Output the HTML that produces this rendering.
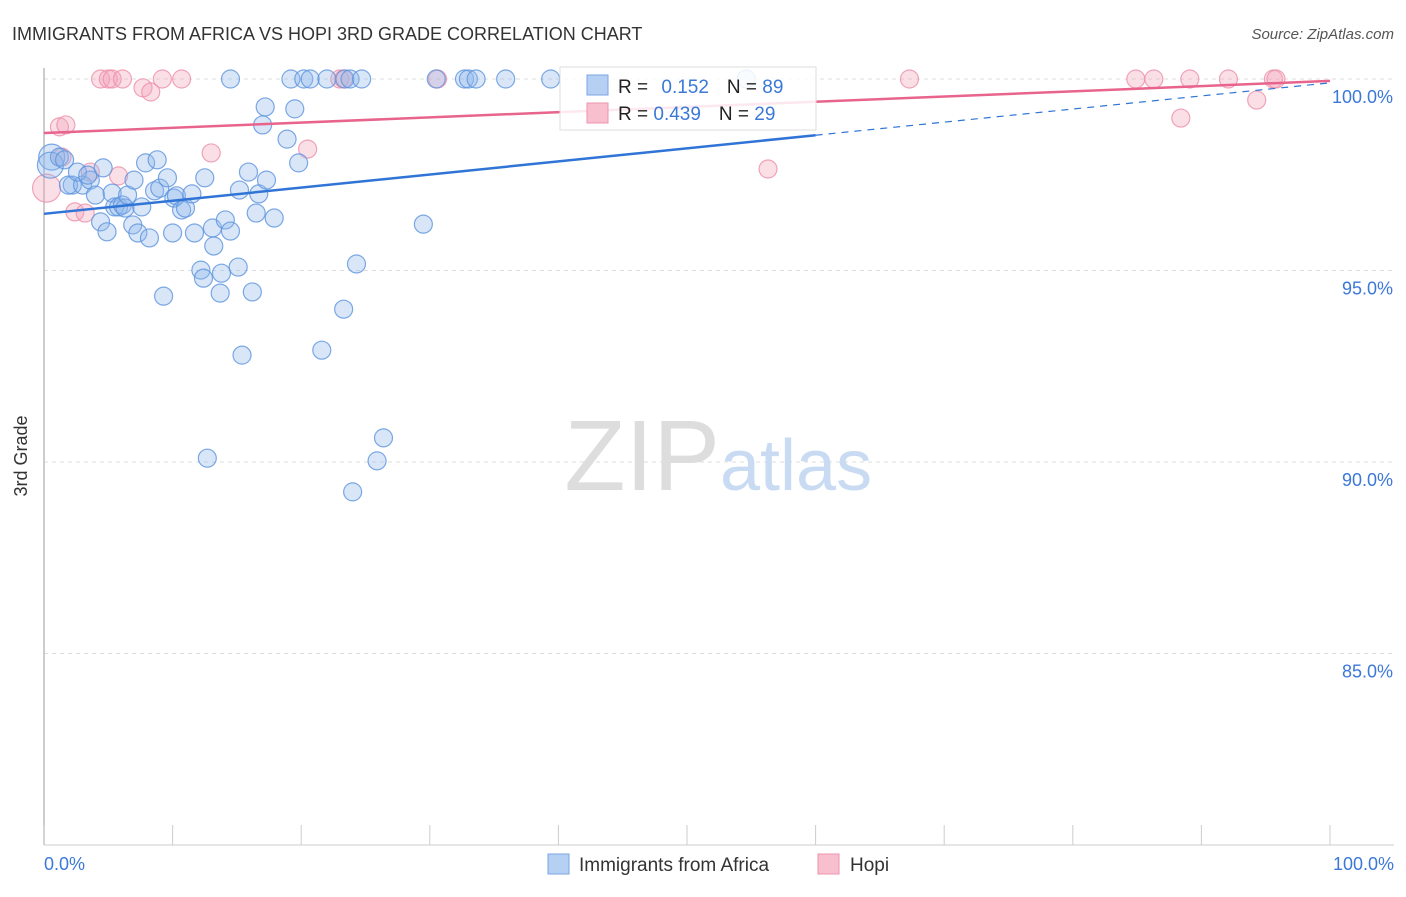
<!DOCTYPE html>
<html><head><meta charset="utf-8">
<style>
body{margin:0;background:#fff;font-family:"Liberation Sans",sans-serif;}
svg text{font-family:"Liberation Sans",sans-serif;}
</style></head>
<body>
<svg width="1406" height="892" viewBox="0 0 1406 892" xmlns="http://www.w3.org/2000/svg">
<text x="12" y="40" font-size="18" fill="#333">IMMIGRANTS FROM AFRICA VS HOPI 3RD GRADE CORRELATION CHART</text>
<text x="1394" y="39" font-size="15" fill="#555" font-style="italic" text-anchor="end">Source: ZipAtlas.com</text>
<g id="grid"></g>
<g id="ylabels"></g>
<line x1="44" y1="68" x2="44" y2="845" stroke="#bbb" stroke-width="1.5"/>
<line x1="44" y1="845" x2="1394" y2="845" stroke="#ccc"/>
<g id="xticks"></g>
<text x="27" y="456" font-size="18" fill="#333" text-anchor="middle" transform="rotate(-90 27 456)">3rd Grade</text>
<text x="44" y="870" font-size="18" fill="#3b78d8">0.0%</text>
<text x="1394" y="870" font-size="18" fill="#3b78d8" text-anchor="end">100.0%</text>
<text x="720" y="490" font-size="100" fill="#ddd" text-anchor="end" font-family="Liberation Serif">ZIP</text>
<text x="720" y="490" font-size="72" fill="#c9dbf3">atlas</text>
<g id="pts"></g>
<g id="trends"></g>
<g>
<rect x="560" y="67" width="256" height="63" fill="#fff" fill-opacity="0.85" stroke="#ddd"/>
<rect x="587" y="75" width="21" height="20" fill="#b5d0f3" stroke="#7aa6e6"/>
<text x="618" y="93" font-size="19" fill="#222">R = <tspan fill="#3b78d8" dx="8">0.152</tspan><tspan fill="#222" dx="18">N = </tspan><tspan fill="#3b78d8">89</tspan></text>
<rect x="587" y="103" width="21" height="20" fill="#f8c0cf" stroke="#ee93ad"/>
<text x="618" y="120" font-size="19" fill="#222">R = <tspan fill="#3b78d8">0.439</tspan><tspan fill="#222" dx="18">N = </tspan><tspan fill="#3b78d8">29</tspan></text>
</g>
<g>
<rect x="548" y="854" width="21" height="20" fill="#b5d0f3" stroke="#7aa6e6"/>
<text x="579" y="871" font-size="19" fill="#333">Immigrants from Africa</text>
<rect x="818" y="854" width="21" height="20" fill="#f8c0cf" stroke="#ee93ad"/>
<text x="850" y="871" font-size="19" fill="#333">Hopi</text>
</g>
</svg>
<script>
const yTicks=[100,95,90,85];
const yTickLabels=["100.0%","95.0%","90.0%","85.0%"];
const xTicks=[0,10,20,30,40,50,60,70,80,90,100];
const africaX=[0.6,0.5,1.2,1.6,2.2,1.9,3.0,3.6,2.6,3.4,4.0,4.6,4.4,4.9,5.3,5.5,5.8,6.1,6.3,6.5,6.9,7.0,7.3,7.6,7.9,8.2,8.6,8.8,9.0,9.3,9.6,10.0,10.1,10.3,10.7,11.0,11.5,11.7,12.2,12.4,12.5,12.7,13.1,13.2,13.8,13.7,14.1,14.5,14.5,15.1,15.2,15.4,15.9,16.2,16.5,16.7,17.0,17.2,17.3,17.9,18.9,19.2,19.5,19.8,20.2,20.7,21.6,22.0,23.3,23.4,23.8,24.3,24.0,24.7,25.9,26.4,29.5,30.5,32.7,33.0,33.6,35.9,39.4,54.6];
const africaY=[97.96,97.75,97.96,97.89,97.23,97.23,97.23,97.36,97.57,97.49,96.97,97.68,96.27,96.01,97.02,96.66,96.66,96.71,96.63,96.97,96.19,97.36,95.98,96.66,97.81,95.85,97.08,97.89,97.15,94.33,97.42,95.98,96.89,96.95,96.58,96.63,97.0,95.98,95.01,94.80,97.42,90.10,96.11,95.64,94.93,94.41,96.32,96.03,100,95.09,97.10,92.79,97.57,94.44,96.50,97.0,98.80,99.27,97.36,96.37,98.43,100,99.22,97.81,100,100,92.92,100,93.99,100,100,95.17,89.22,100,90.03,90.63,96.21,100,100,100,100,100,100,100];
const hopiX=[0.2,1.4,1.2,1.7,2.4,3.2,3.6,4.4,5.0,5.3,6.1,7.7,8.3,9.2,10.7,13.0,5.8,20.5,23.0,23.3,30.6,56.3,67.3,84.9,86.3,89.1,88.4,92.1,94.3,95.6,95.8];
const hopiY=[97.15,97.96,98.75,98.80,96.53,96.50,97.57,100,100,100,100,99.77,99.66,100,100,98.07,97.47,98.17,100,100,100,97.65,100,100,100,100,98.98,100,99.45,100,100];
const africaTrend=[96.48,99.9];
const africaSolidEnd=60;
const hopiTrend=[98.59,99.95];
const NS="http://www.w3.org/2000/svg";
function X(v){return 44+v*12.86;}
function Y(v){return 79+(100-v)*38.3;}
function mk(tag,attrs,parent){const e=document.createElementNS(NS,tag);for(const k in attrs)e.setAttribute(k,attrs[k]);parent.appendChild(e);return e;}
const grid=document.getElementById('grid'),yl=document.getElementById('ylabels'),xt=document.getElementById('xticks'),pts=document.getElementById('pts'),tr=document.getElementById('trends');
yTicks.forEach((t,i)=>{
const l=mk('line',{x1:44,x2:1394,y1:Y(t),y2:Y(t),stroke:'#ddd','stroke-dasharray':'4 4'},grid);


const tx=mk('text',{x:1393,y:Y(t)+24,'font-size':18,fill:'#3b78d8','text-anchor':'end'},yl);
tx.textContent=yTickLabels[i];


});
xTicks.forEach(t=>{
const l=mk('line',{x1:X(t),x2:X(t),y1:825,y2:845,stroke:'#ccc'},xt);


});
function dot(x,y,fill,stroke,r){
const c=mk('circle',{cx:X(x),cy:Y(y),r:r,fill:fill,'fill-opacity':0.35,stroke:stroke,'stroke-width':1.2,'stroke-opacity':0.8},pts);
return c;}
hopiX.forEach((x,i)=>{
const c=dot(x,hopiY[i],'#f4a3ba','#ec8fa9',i===0?14:9);


});
africaX.forEach((x,i)=>{
const c=dot(x,africaY[i],'#90b8ec','#5d93dd',i<2?13:9);


});
function lerp(a,t){return a[0]+(a[1]-a[0])*t/100;}
const b1=mk('line',{x1:X(0),y1:Y(africaTrend[0]),x2:X(africaSolidEnd),y2:Y(lerp(africaTrend,africaSolidEnd)),stroke:'#2f74d6','stroke-width':2.5},tr);


const b2=mk('line',{x1:X(africaSolidEnd),y1:Y(lerp(africaTrend,africaSolidEnd)),x2:X(100),y2:Y(africaTrend[1]),stroke:'#2f74d6','stroke-width':1.2,'stroke-dasharray':'7 6'},tr);


const p1=mk('line',{x1:X(0),y1:Y(hopiTrend[0]),x2:X(100),y2:Y(hopiTrend[1]),stroke:'#e8648c','stroke-width':2.5},tr);


</script>
</body></html>
